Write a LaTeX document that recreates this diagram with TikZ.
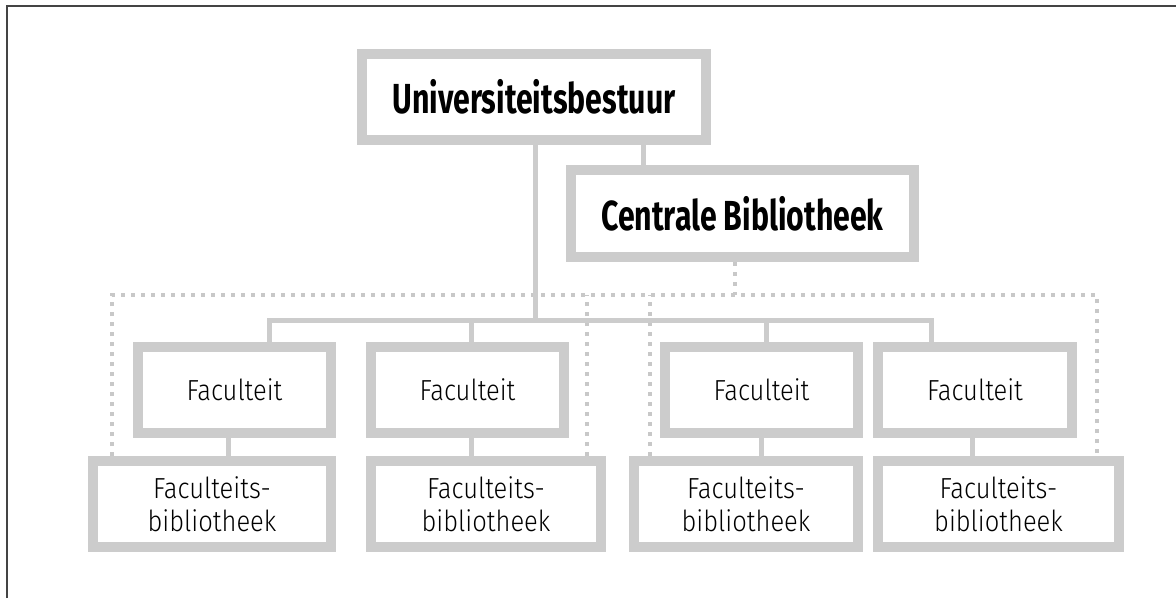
\documentclass[tikz,border=0pt]{standalone}
\usepackage{fontspec}
\setmainfont{Fira Sans Light}[UprightFeatures={FakeStretch=0.88}, BoldFont={Fira Sans Bold}, BoldFeatures={FakeStretch=0.72}]
\definecolor{boxgray}{RGB}{204,204,204}
\definecolor{dotgray}{RGB}{200,200,200}
\definecolor{framegray}{RGB}{68,68,68}
\tikzstyle{topbox} = [rectangle, draw=boxgray, line width=10pt, fill=white, minimum height=86pt, inner sep=0pt, font=\bfseries\fontsize{42}{46}\selectfont]
\tikzstyle{facbox} = [rectangle, draw=boxgray, line width=10pt, fill=white, minimum width=193pt, minimum height=86pt, inner sep=0pt, font=\fontsize{29}{33}\selectfont]
\tikzstyle{libbox} = [facbox, align=center]
\tikzstyle{conn} = [draw=boxgray, line width=5pt]
\tikzstyle{dotline} = [draw=dotgray, line width=4pt, dash pattern=on 4pt off 6pt]
\begin{document}
\begin{tikzpicture}[x=1pt, y=-1pt]
\useasboundingbox (0,0) rectangle (1176,598);
\draw [framegray, line width=1.5pt] (7,598) -- (7,6) -- (1176,6);

\node (univ) [topbox, minimum width=344pt] at (534,97) {Universiteitsbestuur};
\node (centraal) [topbox, minimum width=343pt, minimum height=87pt] at (742.5,213.5) {Centrale Bibliotheek};

\node (fac1) [facbox] at (234.5,390) {Faculteit};
\node (fac2) [facbox] at (467.5,390) {Faculteit};
\node (fac3) [facbox] at (761.5,390) {Faculteit};
\node (fac4) [facbox, minimum width=194pt] at (975,390) {Faculteit};

\node (lib1) [libbox, minimum width=238pt] at (212,504) {Faculteits-\\bibliotheek};
\node (lib2) [libbox, minimum width=230pt] at (486,504) {Faculteits-\\bibliotheek};
\node (lib3) [libbox, minimum width=224pt] at (746,504) {Faculteits-\\bibliotheek};
\node (lib4) [libbox, minimum width=241pt] at (998.5,504) {Faculteits-\\bibliotheek};

% dotted lines from the central library
\coordinate (dl) at (112,295);
\coordinate (dr) at (1097,295);
\coordinate (dm1) at (587,295);
\coordinate (dm2) at (650,295);
\coordinate (dc) at (735,295);
\draw [dotline] (lib1.north -| dl) -- (dl) -- (dr) -- (lib4.north -| dr);
\draw [dotline] (lib2.north -| dm1) -- (dm1);
\draw [dotline] (lib3.north -| dm2) -- (dm2);
\draw [dotline] (centraal.south -| dc) -- (dc);

% solid lines
\coordinate (hub) at (535,320);
\coordinate (d1) at (269,320);
\coordinate (d2) at (471,320);
\coordinate (d3) at (766,320);
\coordinate (d4) at (931,320);
\coordinate (cb) at (643,0);
\draw [conn] (univ.south -| hub) -- (hub);
\draw [conn] (univ.south -| cb) -- (centraal.north -| cb);
\draw [conn] (fac1.north -| d1) -- (d1) -- (d4) -- (fac4.north -| d4);
\draw [conn] (fac2.north -| d2) -- (d2);
\draw [conn] (fac3.north -| d3) -- (d3);

\coordinate (s1) at (228,0);
\coordinate (s2) at (471,0);
\coordinate (s3) at (761,0);
\coordinate (s4) at (972,0);
\draw [conn] (fac1.south -| s1) -- (lib1.north -| s1);
\draw [conn] (fac2.south -| s2) -- (lib2.north -| s2);
\draw [conn] (fac3.south -| s3) -- (lib3.north -| s3);
\draw [conn] (fac4.south -| s4) -- (lib4.north -| s4);

\end{tikzpicture}
\end{document}
